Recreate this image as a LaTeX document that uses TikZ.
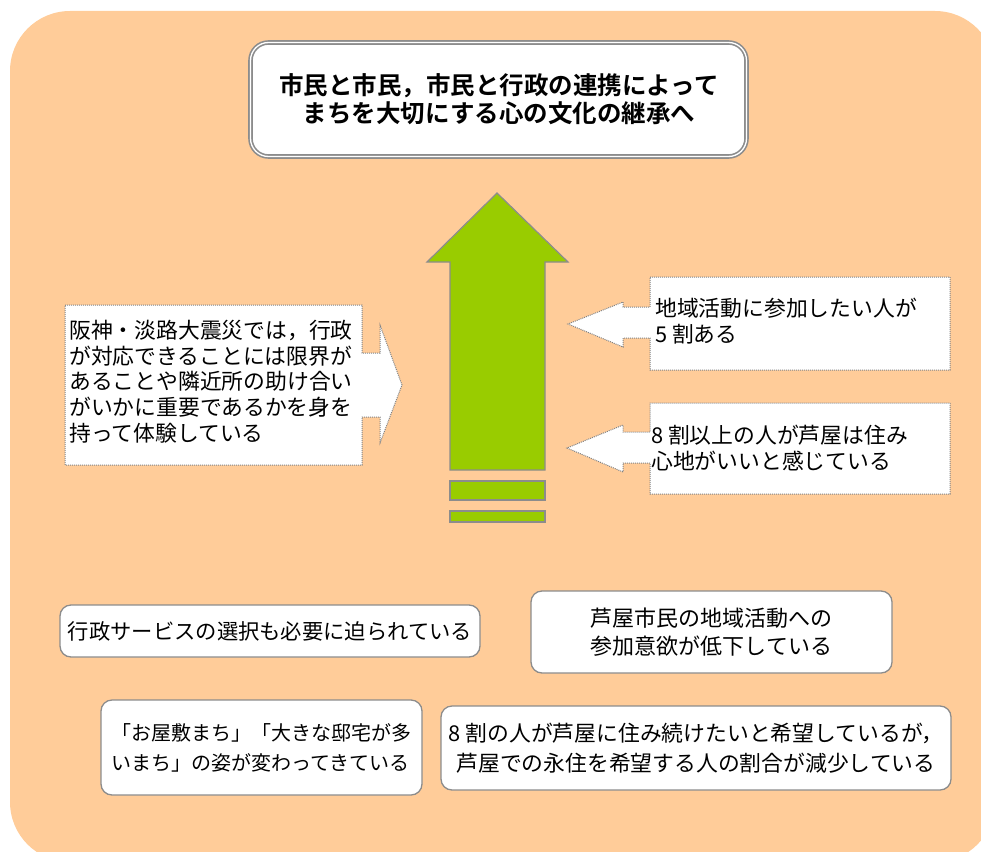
\documentclass[tikz,border=0pt]{standalone}
\usepackage{fontspec}
\newfontfamily\jp{Noto Sans CJK JP}
\newfontfamily\jpb{Noto Sans CJK JP Bold}
\definecolor{peach}{RGB}{255,204,153}
\definecolor{leaf}{RGB}{153,204,0}
\definecolor{edge}{RGB}{140,140,140}
\definecolor{dots}{RGB}{130,130,130}
\tikzset{
  txt/.style={inner sep=0pt, font=\jp\fontsize{21.8}{25.7}\selectfont, text=black},
  callout/.style={draw=dots, densely dotted, line width=1pt, fill=white},
  softbox/.style={draw=edge, line width=1.3pt, fill=white, rounded corners=11pt, inner sep=0pt},
  greenpart/.style={fill=leaf, draw=edge, line width=1.2pt}
}
\begin{document}
\begin{tikzpicture}[x=1pt,y=-1pt]
\useasboundingbox (0,0) rectangle (981,851);
% background
\fill[peach, rounded corners=60pt] (10,11) rectangle (995,862);
% title box
\draw[draw=edge, line width=4.6pt, fill=white, rounded corners=18pt] (250.5,42.5) rectangle (746.5,156.5);
\draw[draw=white, line width=1.3pt, rounded corners=18pt] (250.5,42.5) rectangle (746.5,156.5);
\node[txt, align=center, font=\jpb\fontsize{24.5}{28.5}\selectfont] (title) at (499,99)
  {市民と市民，市民と行政の連携によって\\まちを大切にする心の文化の継承へ};
% green arrow
\draw[greenpart] (497,193) -- (568,262) -- (545,262) -- (545,470) -- (450,470) -- (450,262) -- (427,262) -- cycle;
\draw[greenpart] (450,481) rectangle (545,500);
\draw[greenpart] (450,511) rectangle (545,522);
% left callout
\draw[callout] (65,305) -- (362,305) -- (362,353) -- (380,353) -- (380,325) -- (402,385) -- (380,443) -- (380,417) -- (362,417) -- (362,465) -- (65,465) -- cycle;
\node[txt, anchor=north west, align=left] (left) at (69,320)
  {阪神・淡路大震災では，行政\\が対応できることには限界が\\あることや隣近所の助け合い\\がいかに重要であるかを身を\\持って体験している};
% right callout 1
\draw[callout] (950,277) -- (950,370) -- (650,370) -- (650,338) -- (623,338) -- (623,347) -- (568,324) -- (623,302) -- (623,307) -- (650,307) -- (650,277) -- cycle;
\node[txt, anchor=north west, align=left] (r1) at (655,298)
  {地域活動に参加したい人が\\5 割ある};
% right callout 2
\draw[callout] (950,403) -- (950,494) -- (650,494) -- (650,463) -- (623,463) -- (623,472) -- (567,448) -- (623,425) -- (623,432) -- (650,432) -- (650,403) -- cycle;
\node[txt, anchor=north west, align=left] (r2) at (651,425)
  {8 割以上の人が芦屋は住み\\心地がいいと感じている};
% bottom boxes
\node[softbox, minimum width=420pt, minimum height=52pt, font=\jp\fontsize{21.3}{29}\selectfont] (ba) at (270,631)
  {行政サービスの選択も必要に迫られている};
\node[softbox, minimum width=361pt, minimum height=82pt, align=center, font=\jp\fontsize{22}{27.5}\selectfont] (bb) at (711.5,632)
  {芦屋市民の地域活動への\\参加意欲が低下している};
\node[softbox, minimum width=321pt, minimum height=95pt, align=left, font=\jp\fontsize{20}{30}\selectfont] (bc) at (261.5,747.5)
  {「お屋敷まち」「大きな邸宅が多\\いまち」の姿が変わってきている};
\node[softbox, minimum width=510pt, minimum height=84pt, align=center, font=\jp\fontsize{21.8}{30}\selectfont] (bd) at (696,748)
  {8 割の人が芦屋に住み続けたいと希望しているが，\\芦屋での永住を希望する人の割合が減少している};
\end{tikzpicture}
\end{document}
